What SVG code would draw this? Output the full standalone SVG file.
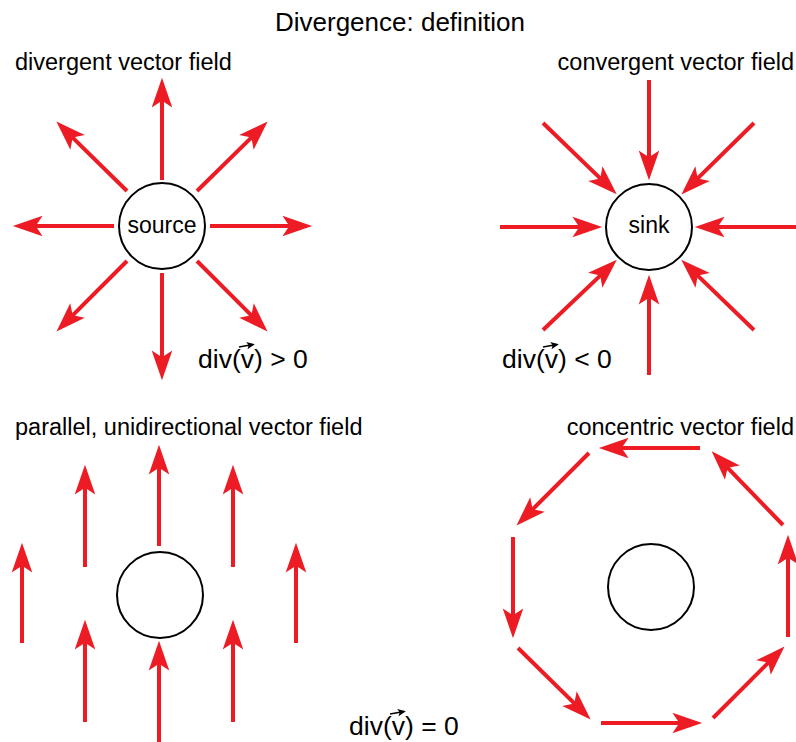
<svg xmlns="http://www.w3.org/2000/svg" width="796" height="742" viewBox="0 0 796 742">
<style>
text{font-family:"Liberation Sans",Arial,sans-serif;fill:#000}
.t{font-size:26px}
.l{font-size:23.5px}
.n{font-size:23px}
.d{font-size:26.5px}
.a{stroke:#ed1c24;stroke-width:4;fill:none;marker-end:url(#ah)}
.c{fill:#fff;stroke:#000;stroke-width:2}
.va{stroke:#000;stroke-width:1.3;fill:none;marker-end:url(#vh)}
</style>
<defs>
<marker id="ah" markerUnits="userSpaceOnUse" orient="auto" refX="0" refY="0" markerWidth="40" markerHeight="30" viewBox="-15 -12 35 24" overflow="visible">
<path d="M15,0 L-11,-9 L-5,0 L-11,9 Z" fill="#ed1c24"/>
</marker>
<marker id="vh" markerUnits="userSpaceOnUse" orient="auto" refX="0" refY="0" markerWidth="10" markerHeight="10" viewBox="-6 -4 8 8" overflow="visible">
<path d="M1.5,0 L-5,-3 L-3.5,0 L-5,3 Z" fill="#000"/>
</marker>
</defs>
<text class="t" x="400" y="31" text-anchor="middle">Divergence: definition</text>

<g id="connectors">
<!-- divergent -->
<line class="a" x1="162" y1="180" x2="162" y2="95"/>
<line class="a" x1="162" y1="273" x2="162" y2="363"/>
<line class="a" x1="210" y1="226" x2="295" y2="226"/>
<line class="a" x1="114" y1="226" x2="30" y2="226"/>
<line class="a" x1="197" y1="191" x2="255.4" y2="133.6"/>
<line class="a" x1="127" y1="191" x2="68.6" y2="133.6"/>
<line class="a" x1="197" y1="261" x2="255.4" y2="319.4"/>
<line class="a" x1="127" y1="261" x2="68.6" y2="319.4"/>
<!-- convergent -->
<line class="a" x1="649" y1="80" x2="649" y2="163"/>
<line class="a" x1="649" y1="375" x2="649" y2="292"/>
<line class="a" x1="500" y1="227" x2="585" y2="227"/>
<line class="a" x1="796" y1="227" x2="712" y2="227"/>
<line class="a" x1="543" y1="123" x2="604.4" y2="182.4"/>
<line class="a" x1="754" y1="123" x2="693.6" y2="182.4"/>
<line class="a" x1="543" y1="330" x2="604.4" y2="271.6"/>
<line class="a" x1="754" y1="330" x2="693.6" y2="271.6"/>
<!-- parallel -->
<line class="a" x1="159" y1="546" x2="159" y2="462"/>
<line class="a" x1="159" y1="742" x2="159" y2="658"/>
<line class="a" x1="85" y1="567" x2="85" y2="482"/>
<line class="a" x1="85" y1="722" x2="85" y2="637"/>
<line class="a" x1="233" y1="567" x2="233" y2="482"/>
<line class="a" x1="233" y1="722" x2="233" y2="637"/>
<line class="a" x1="22" y1="643" x2="22" y2="560"/>
<line class="a" x1="296" y1="643" x2="296" y2="560"/>
<!-- concentric -->
<line class="a" x1="700" y1="448" x2="616" y2="448"/>
<line class="a" x1="589" y1="453" x2="528.6" y2="513.4"/>
<line class="a" x1="513" y1="537" x2="513" y2="621"/>
<line class="a" x1="518" y1="648" x2="578.4" y2="707.4"/>
<line class="a" x1="601" y1="723" x2="685" y2="723"/>
<line class="a" x1="713" y1="718" x2="772.4" y2="658.6"/>
<line class="a" x1="788" y1="637" x2="788" y2="552"/>
<line class="a" x1="783" y1="525" x2="723.6" y2="463.6"/>
</g>

<g id="source">
<circle class="c" cx="162" cy="226" r="43"/>
<text class="n" x="162" y="233" text-anchor="middle">source</text>
</g>
<g id="sink">
<circle class="c" cx="649" cy="227" r="43"/>
<text class="n" x="649" y="233" text-anchor="middle">sink</text>
</g>
<g id="obstacle-parallel">
<circle class="c" cx="160" cy="595" r="43"/>
</g>
<g id="obstacle-concentric">
<circle class="c" cx="651" cy="587" r="43"/>
</g>

<g id="labels">
<text class="l" x="15" y="70">divergent vector field</text>
<text class="l" x="794" y="70" text-anchor="end">convergent vector field</text>
<text class="l" x="15" y="435">parallel, unidirectional vector field</text>
<text class="l" x="794" y="435" text-anchor="end">concentric vector field</text>
</g>

<g id="div-positive">
<text class="d" x="198" y="368">div(v) &gt; 0</text>
<line class="va" x1="239" y1="347" x2="253" y2="344.5"/>
</g>
<g id="div-negative">
<text class="d" x="502" y="368">div(v) &lt; 0</text>
<line class="va" x1="543" y1="347" x2="557" y2="344.5"/>
</g>
<g id="div-zero">
<text class="d" x="349" y="735">div(v) = 0</text>
<line class="va" x1="390" y1="714" x2="404" y2="711.5"/>
</g>
</svg>
